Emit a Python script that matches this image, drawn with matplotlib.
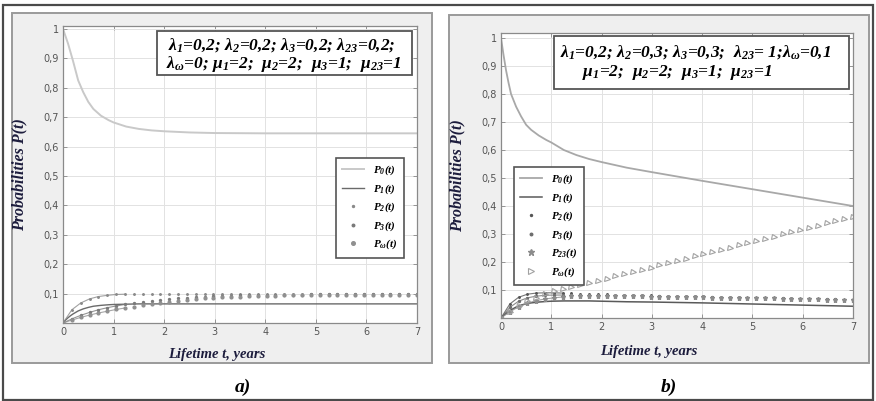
"""Two-panel probability curves P(t) vs lifetime (a, b)."""
import numpy as np
import matplotlib.pyplot as plt
from matplotlib.patches import Rectangle

plt.rcParams["mathtext.fontset"] = "custom"
plt.rcParams["mathtext.rm"] = "Liberation Serif:bold:italic"
plt.rcParams["mathtext.it"] = "Liberation Serif:bold:italic"
plt.rcParams["mathtext.bf"] = "Liberation Serif:bold:italic"
SERIF = ["Liberation Serif", "DejaVu Serif"]

W, H = 876, 401

# sampling times
T_LINE = [0, 0.05, 0.1, 0.15, 0.2, 0.3, 0.4, 0.5, 0.6, 0.75, 0.9, 1.0, 1.25, 1.5,
          1.75, 2.0, 2.5, 3.0, 4.0, 5.0, 6.0, 7.0]
T_MARK = np.linspace(0, 7, 41)
N_EARLY = 8   # first marker samples also joined by a thin line (dense solver steps)

# ---- panel a) ----
a_p0 = [1.0, 0.975, 0.95, 0.92, 0.89, 0.825, 0.785, 0.752, 0.728, 0.705, 0.69,
        0.682, 0.668, 0.66, 0.655, 0.652, 0.648, 0.646, 0.645, 0.645, 0.645, 0.645]
a_p1 = [0, 0.010, 0.018, 0.025, 0.031, 0.041, 0.048, 0.053, 0.057, 0.060, 0.062,
        0.063, 0.064, 0.065, 0.065, 0.065, 0.065, 0.065, 0.065, 0.065, 0.065, 0.065]
a_p2 = [0, 0.045, 0.068, 0.082, 0.090, 0.094, 0.097, 0.098, 0.099, 0.099,
        0.1, 0.1, 0.1, 0.1, 0.1, 0.1, 0.1, 0.1, 0.1, 0.1,
        0.1, 0.1, 0.1, 0.1, 0.1, 0.1, 0.1, 0.1, 0.1, 0.1,
        0.1, 0.1, 0.1, 0.1, 0.1, 0.1, 0.1, 0.1, 0.1, 0.1, 0.1]
a_p3 = [0, 0.014, 0.026, 0.036, 0.045, 0.052, 0.058, 0.063, 0.068, 0.072,
        0.076, 0.079, 0.082, 0.084, 0.086, 0.088, 0.090, 0.091, 0.092, 0.093,
        0.094, 0.095, 0.095, 0.096, 0.096, 0.096, 0.096, 0.096, 0.097, 0.097,
        0.097, 0.097, 0.097, 0.097, 0.097, 0.097, 0.097, 0.097, 0.097, 0.097, 0.097]
a_pw = [0, 0.010, 0.019, 0.027, 0.034, 0.040, 0.046, 0.051, 0.056, 0.061,
        0.065, 0.069, 0.073, 0.076, 0.079, 0.082, 0.084, 0.086, 0.088, 0.089,
        0.090, 0.091, 0.092, 0.093, 0.093, 0.094, 0.094, 0.095, 0.095, 0.095,
        0.095, 0.095, 0.095, 0.095, 0.095, 0.095, 0.095, 0.095, 0.095, 0.095, 0.095]

# ---- panel b) ----
b_p0 = [1.0, 0.94, 0.885, 0.84, 0.80, 0.755, 0.72, 0.69, 0.672, 0.652, 0.636,
        0.627, 0.60, 0.582, 0.568, 0.557, 0.537, 0.521, 0.49, 0.46, 0.43, 0.40]
b_p1 = [0, 0.009, 0.016, 0.023, 0.029, 0.039, 0.046, 0.051, 0.054, 0.057, 0.059,
        0.060, 0.061, 0.061, 0.061, 0.060, 0.058, 0.057, 0.054, 0.050, 0.046, 0.042]
b_p2 = [0, 0.050, 0.074, 0.085, 0.089, 0.090, 0.090, 0.089, 0.088, 0.087,
        0.086, 0.085, 0.084, 0.083, 0.083, 0.082, 0.081, 0.081, 0.080, 0.079,
        0.079, 0.078, 0.077, 0.077, 0.076, 0.075, 0.075, 0.074, 0.073, 0.073,
        0.072, 0.071, 0.071, 0.070, 0.069, 0.069, 0.068, 0.067, 0.067, 0.066, 0.066]
b_p3 = [0, 0.038, 0.060, 0.072, 0.078, 0.081, 0.082, 0.082, 0.082, 0.081,
        0.081, 0.080, 0.080, 0.079, 0.079, 0.078, 0.078, 0.077, 0.077, 0.076,
        0.076, 0.075, 0.075, 0.074, 0.074, 0.073, 0.073, 0.072, 0.072, 0.071,
        0.071, 0.070, 0.070, 0.069, 0.069, 0.068, 0.068, 0.067, 0.067, 0.066, 0.066]
b_p23 = [0, 0.022, 0.040, 0.053, 0.062, 0.068, 0.072, 0.075, 0.077, 0.078,
         0.078, 0.078, 0.078, 0.078, 0.077, 0.077, 0.077, 0.076, 0.076, 0.076,
         0.075, 0.075, 0.074, 0.074, 0.073, 0.073, 0.072, 0.072, 0.071, 0.071,
         0.070, 0.070, 0.069, 0.069, 0.068, 0.068, 0.067, 0.066, 0.066, 0.065, 0.065]
b_pw = [0, 0.022, 0.042, 0.059, 0.073, 0.085, 0.095, 0.104, 0.112, 0.119,
        0.126, 0.133, 0.141, 0.149, 0.157, 0.165, 0.173, 0.180, 0.188, 0.196,
        0.204, 0.212, 0.220, 0.228, 0.236, 0.244, 0.251, 0.259, 0.267, 0.275,
        0.283, 0.291, 0.299, 0.307, 0.315, 0.322, 0.330, 0.338, 0.346, 0.354, 0.362]

Y_TICKS = [0.1, 0.2, 0.3, 0.4, 0.5, 0.6, 0.7, 0.8, 0.9, 1.0]
Y_LABELS = ["0,1", "0,2", "0,3", "0,4", "0,5", "0,6", "0,7", "0,8", "0,9", "1"]
X_TICKS = [0, 1, 2, 3, 4, 5, 6, 7]

TXT_A = [r"λ$_1$=0,2; λ$_2$=0,2; λ$_3$=0,2; λ$_{23}$=0,2;",
         r"λ$_ω$=0; μ$_1$=2;  μ$_2$=2;  μ$_3$=1;  μ$_{23}$=1"]
TXT_B = [r"λ$_1$=0,2; λ$_2$=0,3; λ$_3$=0,3;  λ$_{23}$= 1;λ$_ω$=0,1",
         r"μ$_1$=2;  μ$_2$=2;  μ$_3$=1;  μ$_{23}$=1"]


def fx(x):
    return x / W


def fy(y):
    return 1 - y / H


def frect(fig, x0, y0, x1, y1, **kw):
    fig.patches.append(Rectangle((fx(x0), fy(y1)), fx(x1) - fx(x0), fy(y0) - fy(y1),
                                 transform=fig.transFigure, **kw))


def marks(ax, y, color, label, **kw):
    # thin line through the dense early steps, then markers only
    ax.plot(T_MARK[:N_EARLY], y[:N_EARLY], color=color, lw=0.8, alpha=0.8)
    ax.plot(T_MARK, y, ls="none", color=color, label=label, **kw)


def style_axes(ax, ytop):
    ax.set_zorder(2)
    ax.set_xlim(0, 7)
    ax.set_ylim(0, ytop)
    ax.set_xticks(X_TICKS)
    ax.set_yticks(Y_TICKS)
    ax.set_yticklabels(Y_LABELS)
    ax.grid(True, color="#e2e2e2", lw=0.7)
    ax.tick_params(direction="in", length=3, width=0.6, color="#888",
                   top=True, right=True, labelsize=7, labelcolor="#555", pad=3)
    for s in ax.spines.values():
        s.set_color("#8a8a8a")
        s.set_linewidth(0.9)
    ax.set_ylabel("Probabilities P(t)", family=SERIF, fontsize=11.5,
                  fontweight="bold", style="italic", color="#1c1c3c")
    ax.set_xlabel("Lifetime t, years", family=SERIF, fontsize=10.5,
                  fontweight="bold", style="italic", color="#1c1c3c")
    ax.yaxis.set_label_coords(-0.10, 0.5)


def make_legend(ax, anchor):
    leg = ax.legend(loc="upper left", bbox_to_anchor=anchor, frameon=True,
                    fancybox=False, handlelength=2.0, labelspacing=0.45,
                    borderpad=0.55, framealpha=1, markerscale=1.3,
                    prop={"family": SERIF, "weight": "bold", "style": "italic",
                          "size": 8})
    leg.get_frame().set_edgecolor("#555555")
    leg.get_frame().set_linewidth(1.2)
    return leg


fig = plt.figure(figsize=(W / 100, H / 100), dpi=100)
fig.patch.set_facecolor("white")

# outer frame and panel backgrounds
frect(fig, 3, 5, 873, 400, fill=False, ec="#4a4a4a", lw=1.6, zorder=0)
frect(fig, 12, 13, 432, 363, fc="#efefef", ec="#9a9a9a", lw=1.4, zorder=0)
frect(fig, 449, 15, 869, 363, fc="#efefef", ec="#9a9a9a", lw=1.4, zorder=0)

# ---- axes a) ----
ax1 = fig.add_axes([fx(63), fy(323), fx(417) - fx(63), fy(26) - fy(323)])
ax1.plot(T_LINE, a_p0, color="#c9c9c9", lw=1.4, label=r"P$_0$(t)")
ax1.plot(T_LINE, a_p1, color="#6a6a6a", lw=1.0, label=r"P$_1$(t)")
marks(ax1, a_p2, "#8a8a8a", r"P$_2$(t)", marker=".", ms=2.2)
marks(ax1, a_p3, "#7a7a7a", r"P$_3$(t)", marker=".", ms=2.8)
marks(ax1, a_pw, "#909090", r"P$_ω$(t)", marker="o", ms=2.0)
style_axes(ax1, 1.01)
ax1.xaxis.set_label_coords(0.435, -0.085)
make_legend(ax1, (0.755, 0.575))

# ---- axes b) ----
ax2 = fig.add_axes([fx(501), fy(318), fx(853) - fx(501), fy(33) - fy(318)])
ax2.plot(T_LINE, b_p0, color="#a8a8a8", lw=1.3, label=r"P$_0$(t)")
ax2.plot(T_LINE, b_p1, color="#5a5a5a", lw=1.1, label=r"P$_1$(t)")
marks(ax2, b_p2, "#555555", r"P$_2$(t)", marker=".", ms=2.2)
marks(ax2, b_p3, "#6e6e6e", r"P$_3$(t)", marker=".", ms=2.8)
marks(ax2, b_p23, "#8c8c8c", r"P$_{23}$(t)", marker="*", ms=3.6)
ax2.plot(T_MARK, b_pw, ls="none", marker=">", ms=3.6, mfc="none", mec="#a2a2a2",
         mew=0.8, label=r"P$_ω$(t)")
style_axes(ax2, 1.018)
ax2.xaxis.set_label_coords(0.42, -0.095)
make_legend(ax2, (0.02, 0.55))

# parameter boxes (drawn above the axes)
frect(fig, 157, 31, 412, 75, fc="white", ec="#555555", lw=1.3, zorder=5)
frect(fig, 554, 36, 849, 89, fc="white", ec="#555555", lw=1.3, zorder=5)
TXT_KW = dict(family=SERIF, fontsize=12.5, fontweight="bold", style="italic",
              va="center", ha="left", zorder=6)
fig.text(fx(168), fy(45), TXT_A[0], **TXT_KW)
fig.text(fx(166), fy(64), TXT_A[1], **TXT_KW)
fig.text(fx(560), fy(52), TXT_B[0], **TXT_KW)
fig.text(fx(582), fy(72), TXT_B[1], **TXT_KW)

# panel captions
fig.text(fx(243), fy(387), "a)", family=SERIF, fontsize=14, fontweight="bold",
         style="italic", ha="center", va="center")
fig.text(fx(669), fy(387), "b)", family=SERIF, fontsize=14, fontweight="bold",
         style="italic", ha="center", va="center")

fig.savefig("out.png", dpi=100)
